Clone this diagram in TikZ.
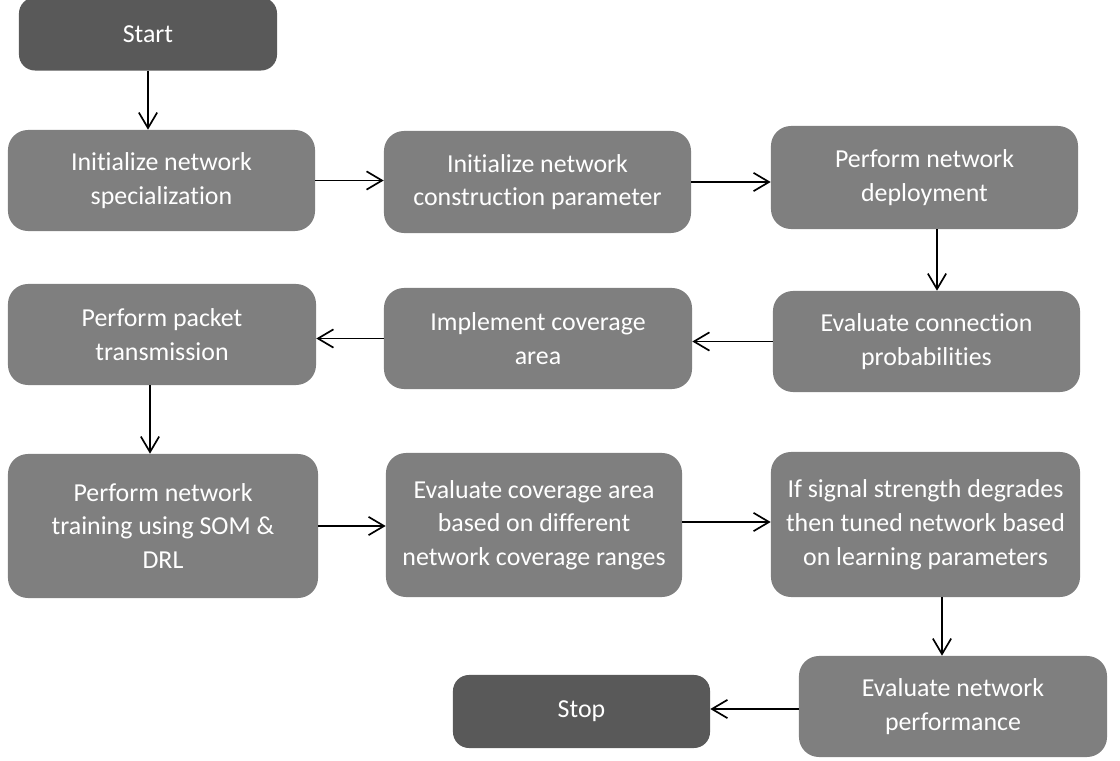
\documentclass[tikz,border=0pt]{standalone}
\usepackage{fontspec}
\setmainfont{Carlito}[Ligatures={NoCommon}]
\usetikzlibrary{arrows.meta}

\definecolor{boxgray}{HTML}{7F7F7F}
\definecolor{endgray}{HTML}{595959}

\tikzset{
  stepbox/.style={draw=none, fill=boxgray, rounded corners=0.5cm, text=white, align=center,
    font=\fontsize{18.4}{24}\selectfont, inner sep=0pt},
  endbox/.style={stepbox, fill=endgray, rounded corners=0.4cm},
  arr/.style={line width=1.4pt, -{Straight Barb[length=11pt, width=13pt, line width=1.2pt]}}
}

\begin{document}
\begin{tikzpicture}[x=0.025cm, y=-0.025cm]
  \useasboundingbox (0,0) rectangle (1120,761);
  % top row
  \node[endbox, minimum width=6.45cm, minimum height=1.825cm] (start) at (148,34) {Start};
  \node[stepbox, minimum width=7.675cm, minimum height=2.525cm] (initspec) at (161.5,180.5) {Initialize network\\specialization};
  \node[stepbox, minimum width=7.675cm, minimum height=2.55cm] (initcons) at (537.5,182) {Initialize network\\construction parameter};
  \node[stepbox, minimum width=7.675cm, minimum height=2.575cm] (deploy) at (924.5,177.5) {Perform network\\deployment};
  % second row
  \node[stepbox, minimum width=7.675cm, minimum height=2.525cm] (connprob) at (926.5,341.5) {Evaluate connection\\probabilities};
  \node[stepbox, minimum width=7.7cm, minimum height=2.525cm] (coverage) at (538,338.5) {Implement coverage\\area};
  \node[stepbox, minimum width=7.7cm, minimum height=2.525cm] (packet) at (162,334.5) {Perform packet\\transmission};
  % third row
  \node[stepbox, minimum width=7.75cm, minimum height=3.6cm] (training) at (163,526) {Perform network\\training using SOM \&\\DRL};
  \node[stepbox, minimum width=7.4cm, minimum height=3.6cm] (evalcov) at (534,525) {Evaluate coverage area\\based on different\\network coverage ranges};
  \node[stepbox, minimum width=7.725cm, minimum height=3.625cm] (signal) at (925.5,524.5) {If signal strength degrades\\then tuned network based\\on learning parameters};
  % last row
  \node[stepbox, minimum width=7.7cm, minimum height=2.525cm] (perf) at (953,706.5) {Evaluate network\\performance};
  \node[endbox, minimum width=6.425cm, minimum height=1.825cm] (stop) at (581.5,711.5) {Stop};

  \draw[arr] (start) -- (start |- initspec.north);
  \draw[arr] (initspec.east) -- (initspec.east -| initcons.west);
  \draw[arr] (initcons.east) -- (initcons.east -| deploy.west);
  \draw[arr] ([xshift=0.3125cm]deploy.south) -- ([xshift=0.3125cm]deploy.south |- connprob.north);
  \draw[arr] (connprob.west) -- (connprob.west -| coverage.east);
  \draw[arr] (coverage.west) -- (coverage.west -| packet.east);
  \draw[arr] ([xshift=-0.3cm]packet.south) -- ([xshift=-0.3cm]packet.south |- training.north);
  \draw[arr] (training.east) -- (training.east -| evalcov.west);
  \draw[arr] ([yshift=0.075cm]evalcov.east) -- ([yshift=0.075cm]evalcov.east -| signal.west);
  \draw[arr] ([xshift=0.4125cm]signal.south) -- ([xshift=0.4125cm]signal.south |- perf.north);
  \draw[arr] ([yshift=-0.0625cm]perf.west) -- ([yshift=-0.0625cm]perf.west -| stop.east);
\end{tikzpicture}
\end{document}
